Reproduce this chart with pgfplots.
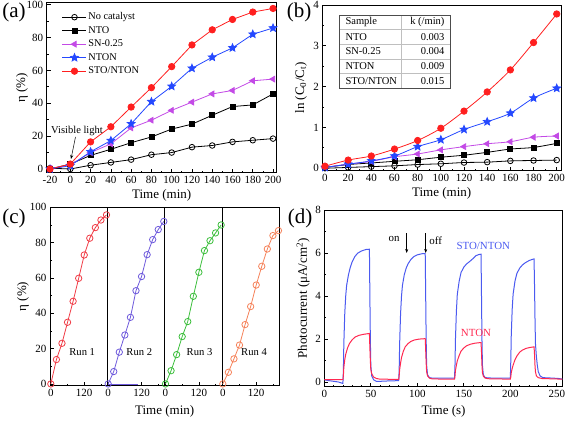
\documentclass[border=0pt]{standalone}
\usepackage{fontspec}
\setmainfont{Liberation Serif}
\usepackage{pgfplots}
\pgfplotsset{compat=1.18}
\usetikzlibrary{arrows.meta}
\definecolor{cRed}{HTML}{FF1F1F}
\definecolor{cBlue}{HTML}{2448FF}
\definecolor{cViol}{HTML}{C34AE6}
\definecolor{rA}{HTML}{F03C46}
\definecolor{rB}{HTML}{6E5ADC}
\definecolor{rC}{HTML}{3CBE3C}
\definecolor{rD}{HTML}{F5825A}
\definecolor{dBlue}{HTML}{4B5AF0}
\definecolor{dRed}{HTML}{FF2850}
\newcommand{\lblfont}{\fontsize{13}{15}\selectfont}
\newcommand{\tckfont}{\fontsize{11}{12}\selectfont}
\pgfdeclareplotmark{fstar}{%
  \pgfpathmoveto{\pgfpointpolar{90}{\pgfplotmarksize}}%
  \pgfpathlineto{\pgfpointpolar{126}{0.45\pgfplotmarksize}}%
  \pgfpathlineto{\pgfpointpolar{162}{\pgfplotmarksize}}%
  \pgfpathlineto{\pgfpointpolar{198}{0.45\pgfplotmarksize}}%
  \pgfpathlineto{\pgfpointpolar{234}{\pgfplotmarksize}}%
  \pgfpathlineto{\pgfpointpolar{270}{0.45\pgfplotmarksize}}%
  \pgfpathlineto{\pgfpointpolar{306}{\pgfplotmarksize}}%
  \pgfpathlineto{\pgfpointpolar{342}{0.45\pgfplotmarksize}}%
  \pgfpathlineto{\pgfpointpolar{18}{\pgfplotmarksize}}%
  \pgfpathlineto{\pgfpointpolar{54}{0.45\pgfplotmarksize}}%
  \pgfpathclose\pgfusepathqfillstroke}
\pgfplotsset{
  myax/.style={scale only axis, anchor=north west, tick align=inside, tick pos=left,
    axis line style={line width=0.8pt}, major tick length=4pt, minor tick length=2pt,
    /pgf/number format/assume math mode=true,
    xticklabel style={font=\tckfont}, yticklabel style={font=\tckfont},
    every tick/.style={line width=0.7pt, black}},
  nocat/.style={black, line width=0.8pt, mark=o, mark size=2.8pt, mark options={fill=white, solid}},
  nto/.style={black, line width=0.8pt, mark=square*, mark size=2.5pt},
  snp/.style={cViol, line width=0.8pt, mark=triangle*, mark size=3.3pt, mark options={rotate=90}},
  nton/.style={cBlue, line width=0.8pt, mark=fstar, mark size=4pt},
  ston/.style={cRed, line width=0.8pt, mark=*, mark size=3.2pt},
}
\begin{document}
\begin{tikzpicture}[x=1pt,y=1pt]
% ---------------- (a)
\begin{axis}[myax, at={(46.7pt,418.3pt)}, width=230pt, height=170pt,
  xmin=-23.3, xmax=203.6, ymin=-2.25, ymax=101.2,
  xtick={-20,0,...,200}, minor x tick num=1,
  ytick={0,20,...,100}, minor y tick num=1,
  xlabel={Time (min)}, ylabel={η (\%)},
  every axis x label/.style={at={(axis description cs:0.5,-0.131)}, anchor=center, font=\lblfont},
  every axis y label/.style={at={(axis description cs:-0.107,0.5)}, rotate=90, anchor=center, font=\lblfont},
  legend style={at={(axis description cs:0.053,0.963)}, anchor=north west, draw=none, fill=none,
    font=\fontsize{10.3}{12}\selectfont, nodes={inner sep=1.5pt, text height=7pt, text depth=2pt}, row sep=1.5pt},
  legend cell align=left,
  legend image code/.code={\draw[mark repeat=2,mark phase=2,#1] plot coordinates {(0pt,0pt)(12pt,0pt)(24pt,0pt)};}]
\addplot[nocat] coordinates {(-20,0.5)(0,0)(20,2.3)(40,4)(60,5.7)(80,8.7)(100,10)(120,13.3)(140,14.3)(160,16.5)(180,17.5)(200,18.5)};
\addlegendentry{No catalyst}
\addplot[nto] coordinates {(-20,0)(0,3)(20,8.3)(40,12)(60,16)(80,19.5)(100,24.3)(120,27.3)(140,32.7)(160,38)(180,39)(200,45.7)};
\addlegendentry{NTO}
\addplot[snp] coordinates {(-20,0.3)(0,2.5)(20,10)(40,15.3)(60,25)(80,29.7)(100,35.7)(120,40.7)(140,45.7)(160,47.8)(180,53.7)(200,54.7)};
\addlegendentry{SN-0.25}
\addplot[nton] coordinates {(-20,0)(0,2)(20,10.5)(40,17.3)(60,27.5)(80,41)(100,50.3)(120,61.3)(140,68)(160,73.7)(180,82)(200,85.8)};
\addlegendentry{NTON}
\addplot[ston] coordinates {(-20,0)(0,3)(20,16.5)(40,25.7)(60,37.7)(80,49.5)(100,62.3)(120,75.5)(140,84.7)(160,91)(180,95.5)(200,97.7)};
\addlegendentry{STO/NTON}
\end{axis}
\node[font=\fontsize{10.5}{12}\selectfont] at (77,290) {Visible light};
\draw[-{Stealth[length=4pt,width=3pt]}, line width=0.5pt] (75.5,284) -- (71,262);
% ---------------- (b)
\begin{axis}[myax, at={(322.3pt,416pt)}, width=238.7pt, height=165.7pt,
  xmin=-2.3, xmax=203.7, ymin=-0.06, ymax=4,
  xtick={0,20,...,200}, minor x tick num=1,
  ytick={0,1,...,4}, minor y tick num=1,
  xlabel={Time (min)}, ylabel={ln (C\textsubscript{0}/C\textsubscript{t})},
  every axis x label/.style={at={(axis description cs:0.5,-0.134)}, anchor=center, font=\lblfont},
  every axis y label/.style={at={(axis description cs:-0.089,0.5)}, rotate=90, anchor=center, font=\lblfont}]
\addplot[nocat, smooth] coordinates {(0,0.0)(20,0.02)(40,0.04)(60,0.06)(80,0.09)(100,0.11)(120,0.14)(140,0.15)(160,0.18)(180,0.19)(200,0.2)};
\addplot[nto, smooth] coordinates {(0,0.02)(20,0.09)(40,0.13)(60,0.17)(80,0.21)(100,0.27)(120,0.32)(140,0.39)(160,0.47)(180,0.51)(200,0.61)};
\addplot[snp, smooth] coordinates {(0,0.02)(20,0.1)(40,0.17)(60,0.28)(80,0.35)(100,0.45)(120,0.53)(140,0.6)(160,0.65)(180,0.76)(200,0.79)};
\addplot[nton, smooth] coordinates {(0,0.02)(20,0.1)(40,0.18)(60,0.3)(80,0.53)(100,0.7)(120,0.95)(140,1.14)(160,1.35)(180,1.72)(200,1.96)};
\addplot[ston, smooth] coordinates {(0,0.05)(20,0.2)(40,0.3)(60,0.47)(80,0.68)(100,0.98)(120,1.4)(140,1.87)(160,2.41)(180,3.08)(200,3.78)};
\end{axis}
% table in (b)
\begin{scope}[font=\fontsize{10.5}{12}\selectfont]
\fill[white] (339,333) rectangle (450,406);
\draw[black!25, line width=0.5pt] (339,391.4) -- (450,391.4) (339,376.8) -- (450,376.8) (339,362.2) -- (450,362.2) (339,347.6) -- (450,347.6) (401.7,333) -- (401.7,406);
\draw[black!70, line width=0.7pt] (339,333) rectangle (450,406);
\node[anchor=west] at (342,398.7) {Sample};
\node[anchor=east] at (448,398.7) {k (/min)};
\node[anchor=west] at (342,384.1) {NTO};
\node[anchor=east] at (448,384.1) {0.003};
\node[anchor=west] at (342,369.5) {SN-0.25};
\node[anchor=east] at (448,369.5) {0.004};
\node[anchor=west] at (342,354.9) {NTON};
\node[anchor=east] at (448,354.9) {0.009};
\node[anchor=west] at (342,340.3) {STO/NTON};
\node[anchor=east] at (448,340.3) {0.015};
\end{scope}
% ---------------- (c)
\begin{axis}[myax, at={(50pt,213.7pt)}, width=229.3pt, height=178.4pt,
  xmin=-3, xmax=821, ymin=-1, ymax=100,
  xtick={0,120,206,326,412,532,618,738},
  xticklabels={0,120,0,120,0,120,0,120},
  minor xtick={60,180,266,386,472,592,678,798},
  ytick={0,20,...,100}, minor y tick num=1,
  xlabel={Time (min)}, ylabel={η (\%)},
  every axis x label/.style={at={(axis description cs:0.5,-0.146)}, anchor=center, font=\lblfont},
  every axis y label/.style={at={(axis description cs:-0.118,0.5)}, rotate=90, anchor=center, font=\lblfont},
  clip=false]
\draw[black, line width=0.8pt] (axis cs:203,-1) -- (axis cs:203,100);
\draw[black, line width=0.8pt] (axis cs:409,-1) -- (axis cs:409,100);
\draw[black, line width=0.8pt] (axis cs:615,-1) -- (axis cs:615,100);
\addplot[rB, line width=0.8pt] coordinates {(206,0)(313,0)};
\addplot[rA, line width=0.8pt, mark=o, mark size=3.2pt, mark options={fill=white}] coordinates {(0,0)(20,13.8)(40,23)(60,34.9)(80,46.8)(100,59.8)(120,73)(140,82.5)(160,88.5)(180,92.8)(200,95.7)};
\addplot[rB, line width=0.8pt, mark=o, mark size=3.2pt, mark options={fill=white}] coordinates {(206,0)(226,7)(246,18)(266,27.7)(286,37.7)(306,52.8)(326,60.8)(346,73.2)(366,81.7)(386,87.4)(406,92)};
\addplot[rC, line width=0.8pt, mark=o, mark size=3.2pt, mark options={fill=white}] coordinates {(412,0)(432,7.5)(452,16.6)(472,26.8)(492,35.3)(512,49.6)(532,63.2)(552,75.5)(572,81.1)(592,85.5)(612,90)};
\addplot[rD, line width=0.8pt, mark=o, mark size=3.2pt, mark options={fill=white}] coordinates {(618,0)(638,6.6)(658,14.2)(678,22)(698,33.6)(718,43.8)(738,56)(758,66.6)(778,76.4)(798,84)(818,86.8)};
\end{axis}
\begin{scope}[font=\fontsize{10.6}{12}\selectfont]
\node at (82.2,69.3) {Run 1};
\node at (139.3,69.3) {Run 2};
\node at (199.5,69.3) {Run 3};
\node at (254,69.3) {Run 4};
\end{scope}
% ---------------- (d)
\begin{axis}[myax, at={(324.3pt,211pt)}, width=238.4pt, height=176.7pt,
  xmin=0, xmax=256.3, ymin=-0.2, ymax=8,
  xtick={0,50,...,250}, minor x tick num=4,
  ytick={0,2,...,8}, minor y tick num=1,
  xlabel={Time (s)}, ylabel={Photocurrent (μA/cm\textsuperscript{2})},
  every axis x label/.style={at={(axis description cs:0.5,-0.141)}, anchor=center, font=\lblfont},
  every axis y label/.style={at={(axis description cs:-0.089,0.5)}, rotate=90, anchor=center, font=\lblfont}]
\addplot[dBlue, line width=1pt] coordinates {(0,0.12)(5,0.08)(10,0.05)(15,0.02)(20,-0.05)(20.5,0.5)(21,1.8)(22,3.2)(23,4.0)(24,4.5)(26,5.0)(28,5.35)(30,5.6)(33,5.85)(36,6.0)(40,6.1)(45,6.17)(48.5,6.18)(49,4)(49.5,2)(50,0.8)(51,0.3)(53,0.12)(56,0.05)(60,0.05)(70,0.07)(80,0.08)(80.5,0.6)(81,1.8)(82,3.2)(83,4.0)(84,4.5)(86,5.0)(88,5.3)(90,5.5)(93,5.7)(96,5.83)(100,5.92)(105,5.97)(108.5,5.97)(109,4)(109.5,2)(110,0.8)(111,0.35)(113,0.22)(116,0.2)(130,0.2)(140,0.2)(140.5,0.8)(141,2)(142,3.3)(143,4.1)(145,4.7)(147,5.1)(150,5.35)(153,5.5)(156,5.6)(160,5.75)(163,5.88)(166,5.93)(168.5,5.95)(169,4)(169.5,2)(170,0.8)(171,0.35)(173,0.22)(180,0.2)(190,0.2)(200,0.2)(200.5,1.0)(201,2.2)(202,3.4)(203,4.1)(205,4.7)(207,5.05)(210,5.3)(213,5.45)(216,5.55)(220,5.65)(223,5.7)(225.5,5.73)(226,4.5)(226.5,3)(227,1.8)(228,1.2)(229,0.8)(230,0.5)(232,0.3)(235,0.22)(245,0.2)(252,0.18)(256,0.15)};
\addplot[dRed, line width=1pt] coordinates {(0,0.13)(20,0.13)(20.5,0.3)(21,0.7)(22,1.05)(23,1.3)(25,1.6)(27,1.8)(30,1.98)(33,2.1)(37,2.18)(42,2.23)(48.5,2.27)(49,1.6)(49.5,1.0)(50,0.6)(51,0.4)(53,0.25)(56,0.18)(60,0.15)(80,0.14)(80.5,0.3)(81,0.6)(82,0.9)(83,1.15)(85,1.45)(87,1.65)(90,1.8)(93,1.9)(97,1.97)(102,2.01)(108.5,2.03)(109,1.5)(109.5,0.9)(110,0.5)(111,0.3)(113,0.2)(116,0.16)(140,0.15)(140.5,0.3)(141,0.55)(142,0.8)(143,1.0)(145,1.25)(147,1.45)(150,1.6)(153,1.7)(157,1.77)(162,1.82)(168.5,1.85)(169,1.4)(169.5,0.8)(170,0.45)(171,0.28)(173,0.2)(176,0.17)(200,0.15)(200.5,0.25)(201,0.45)(202,0.65)(203,0.8)(205,1.05)(207,1.22)(210,1.4)(213,1.5)(217,1.58)(221,1.62)(225.5,1.65)(226,1.3)(226.5,0.8)(227,0.5)(228,0.3)(230,0.22)(234,0.18)(256,0.15)};
\end{axis}
\begin{scope}[font=\fontsize{10.9}{12}\selectfont]
\node at (394,182) {on};
\draw[-{Stealth[length=4pt,width=3pt]}, line width=0.5pt] (406.7,188) -- (406.7,168);
\node at (435.7,180.3) {off};
\draw[-{Stealth[length=4pt,width=3pt]}, line width=0.5pt] (425.7,188) -- (425.7,168);
\node[text=dBlue] at (483.3,175) {STO/NTON};
\node[text=dRed] at (476,88.3) {NTON};
\end{scope}
% panel labels
\begin{scope}[font=\fontsize{21}{24}\selectfont]
\node at (14,409) {(a)};
\node at (299,409) {(b)};
\node at (14,203) {(c)};
\node at (300,203) {(d)};
\end{scope}
\pgfresetboundingbox
\path[use as bounding box] (0,0) rectangle (567,421);
\end{tikzpicture}
\end{document}
